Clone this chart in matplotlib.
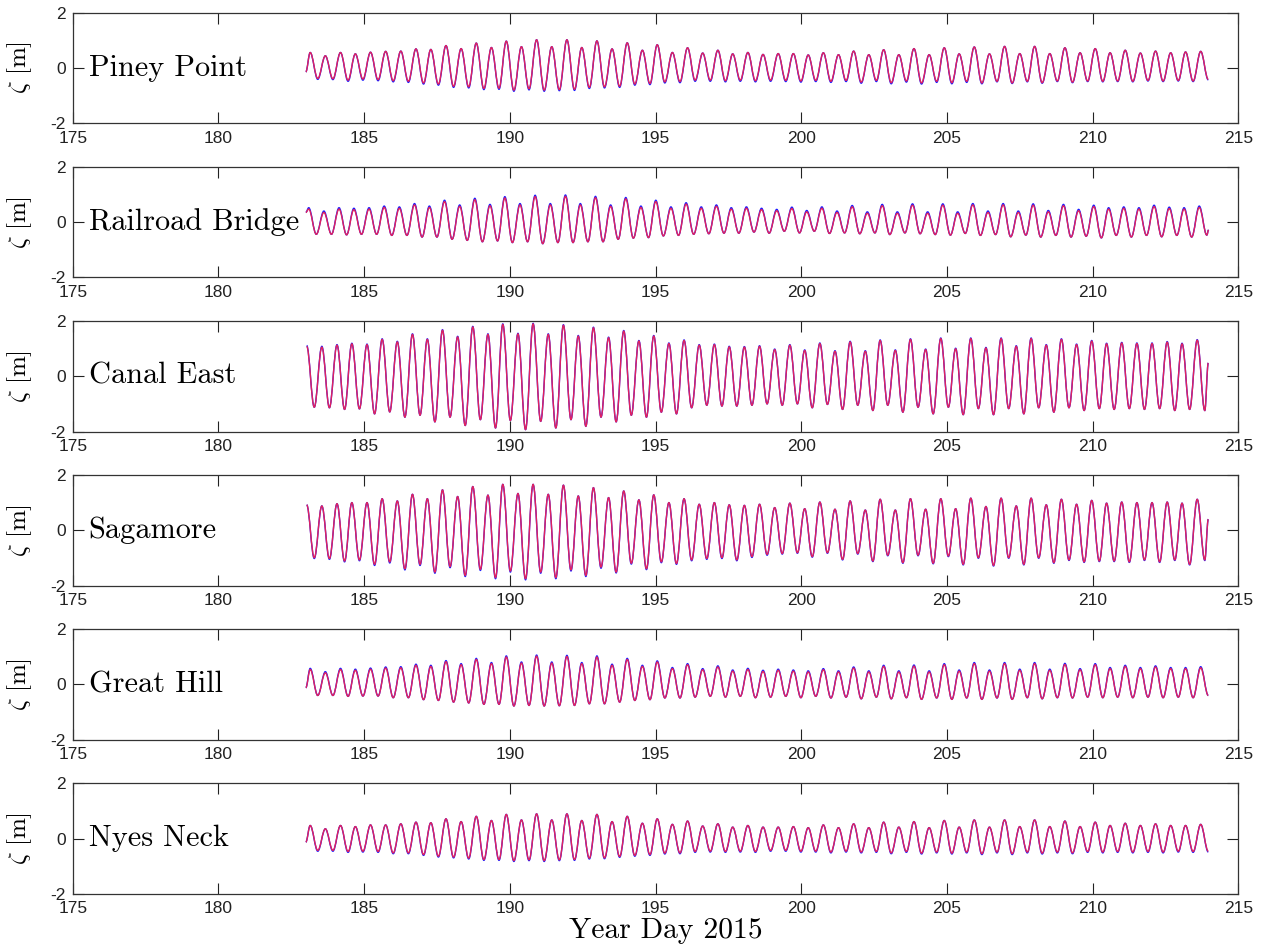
import matplotlib
matplotlib.use("Agg")
import matplotlib.pyplot as plt
from matplotlib.path import Path
from matplotlib.patches import PathPatch

# ---------------- data ----------------
stations = ["Piney Point", "Railroad Bridge", "Canal East", "Sagamore", "Great Hill", "Nyes Neck"]
x_ticks = [175, 180, 185, 190, 195, 200, 205, 210, 215]
y_ticks = [-2, 0, 2]
y_tick_labels = ["-2", "0", "2"]

# times of high / low water (year day), Buzzards Bay stations
t_hi_bb = [183.15, 183.67, 184.19, 184.70, 185.22, 185.74, 186.26, 186.78, 187.29, 187.81,
           188.33, 188.85, 189.37, 189.88, 190.40, 190.92, 191.44, 191.96, 192.47, 192.99,
           193.51, 194.03, 194.55, 195.06, 195.58, 196.10, 196.62, 197.14, 197.65, 198.17,
           198.69, 199.21, 199.73, 200.24, 200.76, 201.28, 201.80, 202.32, 202.83, 203.35,
           203.87, 204.39, 204.91, 205.42, 205.94, 206.46, 206.98, 207.50, 208.01, 208.53,
           209.05, 209.57, 210.09, 210.60, 211.12, 211.64, 212.16, 212.68, 213.19, 213.71]
t_lo_bb = [183.41, 183.93, 184.45, 184.96, 185.48, 186.00, 186.52, 187.04, 187.55, 188.07,
           188.59, 189.11, 189.63, 190.14, 190.66, 191.18, 191.70, 192.22, 192.73, 193.25,
           193.77, 194.29, 194.81, 195.32, 195.84, 196.36, 196.88, 197.40, 197.91, 198.43,
           198.95, 199.47, 199.99, 200.50, 201.02, 201.54, 202.06, 202.58, 203.09, 203.61,
           204.13, 204.65, 205.17, 205.68, 206.20, 206.72, 207.24, 207.76, 208.27, 208.79,
           209.31, 209.83, 210.35, 210.86, 211.38, 211.90, 212.42, 212.94, 213.45, 213.97]
# Railroad Bridge
t_hi_rr = [183.10, 183.62, 184.14, 184.65, 185.17, 185.69, 186.21, 186.73, 187.24, 187.76,
           188.28, 188.80, 189.32, 189.83, 190.35, 190.87, 191.39, 191.91, 192.42, 192.94,
           193.46, 193.98, 194.50, 195.01, 195.53, 196.05, 196.57, 197.09, 197.60, 198.12,
           198.64, 199.16, 199.68, 200.19, 200.71, 201.23, 201.75, 202.27, 202.78, 203.30,
           203.82, 204.34, 204.86, 205.37, 205.89, 206.41, 206.93, 207.45, 207.96, 208.48,
           209.00, 209.52, 210.04, 210.55, 211.07, 211.59, 212.11, 212.63, 213.14, 213.66]
t_lo_rr = [183.36, 183.88, 184.40, 184.91, 185.43, 185.95, 186.47, 186.99, 187.50, 188.02,
           188.54, 189.06, 189.58, 190.09, 190.61, 191.13, 191.65, 192.17, 192.68, 193.20,
           193.72, 194.24, 194.76, 195.27, 195.79, 196.31, 196.83, 197.35, 197.86, 198.38,
           198.90, 199.42, 199.94, 200.45, 200.97, 201.49, 202.01, 202.53, 203.04, 203.56,
           204.08, 204.60, 205.12, 205.63, 206.15, 206.67, 207.19, 207.71, 208.22, 208.74,
           209.26, 209.78, 210.30, 210.81, 211.33, 211.85, 212.37, 212.89, 213.40, 213.92]
# Cape Cod Bay stations (Canal East, Sagamore)
t_hi_cc = [183.03, 183.55, 184.07, 184.58, 185.10, 185.62, 186.14, 186.66, 187.17, 187.69,
           188.21, 188.73, 189.25, 189.76, 190.28, 190.80, 191.32, 191.84, 192.35, 192.87,
           193.39, 193.91, 194.43, 194.94, 195.46, 195.98, 196.50, 197.02, 197.53, 198.05,
           198.57, 199.09, 199.61, 200.12, 200.64, 201.16, 201.68, 202.20, 202.71, 203.23,
           203.75, 204.27, 204.79, 205.30, 205.82, 206.34, 206.86, 207.38, 207.89, 208.41,
           208.93, 209.45, 209.97, 210.48, 211.00, 211.52, 212.04, 212.56, 213.07, 213.59]
t_lo_cc = [183.29, 183.81, 184.33, 184.84, 185.36, 185.88, 186.40, 186.92, 187.43, 187.95,
           188.47, 188.99, 189.51, 190.02, 190.54, 191.06, 191.58, 192.10, 192.61, 193.13,
           193.65, 194.17, 194.69, 195.20, 195.72, 196.24, 196.76, 197.28, 197.79, 198.31,
           198.83, 199.35, 199.87, 200.38, 200.90, 201.42, 201.94, 202.46, 202.97, 203.49,
           204.01, 204.53, 205.05, 205.56, 206.08, 206.60, 207.12, 207.64, 208.15, 208.67,
           209.19, 209.71, 210.23, 210.74, 211.26, 211.78, 212.30, 212.82, 213.33, 213.85]

t_first = 183.00     # first sample time (when not a high water)
t_last_rr = 213.98   # last sample Railroad Bridge
t_last_cc = 213.97   # last sample Cape Cod Bay stations

# ---- Piney Point ----
pp_start = -0.14
pp_hi_mod = [0.56, 0.44, 0.56, 0.51, 0.57, 0.60, 0.61, 0.69, 0.67, 0.81, 0.70, 0.90, 0.74, 0.97, 0.77,
             1.02, 0.77, 1.02, 0.74, 0.98, 0.69, 0.91, 0.64, 0.84, 0.56, 0.73, 0.54, 0.64, 0.51, 0.56,
             0.49, 0.52, 0.52, 0.47, 0.55, 0.48, 0.61, 0.48, 0.66, 0.48, 0.70, 0.48, 0.73, 0.51, 0.76,
             0.51, 0.78, 0.52, 0.78, 0.52, 0.73, 0.55, 0.70, 0.55, 0.64, 0.54, 0.61, 0.55, 0.58, 0.60]
pp_lo_mod = [-0.38, -0.39, -0.44, -0.40, -0.42, -0.46, -0.48, -0.54, -0.58, -0.66, -0.68, -0.74, -0.73,
             -0.80, -0.75, -0.80, -0.78, -0.77, -0.70, -0.68, -0.66, -0.58, -0.56, -0.50, -0.49, -0.44,
             -0.44, -0.46, -0.44, -0.46, -0.44, -0.45, -0.47, -0.45, -0.48, -0.45, -0.51, -0.45, -0.53,
             -0.47, -0.54, -0.48, -0.53, -0.48, -0.54, -0.48, -0.54, -0.48, -0.53, -0.47, -0.51, -0.47,
             -0.48, -0.47, -0.48, -0.45, -0.47, -0.45, -0.47, -0.41]
pp_hi_obs = pp_hi_mod
pp_lo_obs = [-0.41, -0.42, -0.48, -0.44, -0.46, -0.50, -0.52, -0.58, -0.62, -0.70, -0.72, -0.78, -0.77,
             -0.84, -0.79, -0.84, -0.82, -0.81, -0.74, -0.72, -0.70, -0.62, -0.60, -0.54, -0.53, -0.48,
             -0.48, -0.50, -0.48, -0.50, -0.48, -0.49, -0.51, -0.49, -0.52, -0.49, -0.55, -0.49, -0.57,
             -0.51, -0.58, -0.52, -0.57, -0.52, -0.57, -0.50, -0.56, -0.50, -0.55, -0.49, -0.53, -0.49,
             -0.50, -0.49, -0.50, -0.47, -0.49, -0.47, -0.49, -0.43]

# ---- Railroad Bridge ----
rr_start = 0.35
rr_end = -0.28
rr_hi_mod = [0.47, 0.35, 0.47, 0.45, 0.47, 0.53, 0.50, 0.62, 0.53, 0.74, 0.57, 0.81, 0.59, 0.87, 0.62,
             0.92, 0.62, 0.93, 0.62, 0.88, 0.57, 0.84, 0.53, 0.74, 0.50, 0.65, 0.50, 0.57, 0.47, 0.50,
             0.45, 0.41, 0.49, 0.37, 0.50, 0.35, 0.55, 0.32, 0.59, 0.32, 0.61, 0.32, 0.61, 0.32, 0.62,
             0.35, 0.62, 0.35, 0.61, 0.37, 0.59, 0.41, 0.56, 0.47, 0.50, 0.47, 0.56, 0.49, 0.47, 0.53]
rr_hi_obs = [0.52, 0.40, 0.52, 0.50, 0.52, 0.58, 0.55, 0.67, 0.58, 0.79, 0.62, 0.86, 0.64, 0.92, 0.67,
             0.97, 0.67, 0.98, 0.67, 0.93, 0.62, 0.89, 0.58, 0.79, 0.55, 0.70, 0.55, 0.62, 0.52, 0.55,
             0.50, 0.46, 0.54, 0.42, 0.55, 0.40, 0.60, 0.37, 0.64, 0.37, 0.66, 0.37, 0.66, 0.37, 0.67,
             0.40, 0.67, 0.40, 0.66, 0.42, 0.64, 0.46, 0.61, 0.52, 0.55, 0.52, 0.61, 0.54, 0.52, 0.58]
rr_lo_mod = [-0.44, -0.44, -0.46, -0.44, -0.44, -0.48, -0.48, -0.54, -0.54, -0.62, -0.66, -0.71, -0.68,
             -0.74, -0.71, -0.78, -0.74, -0.74, -0.71, -0.71, -0.62, -0.58, -0.56, -0.50, -0.48, -0.44,
             -0.42, -0.40, -0.40, -0.36, -0.40, -0.33, -0.39, -0.33, -0.41, -0.39, -0.42, -0.39, -0.45,
             -0.39, -0.42, -0.45, -0.47, -0.41, -0.48, -0.45, -0.53, -0.47, -0.54, -0.48, -0.54, -0.51,
             -0.57, -0.48, -0.54, -0.48, -0.53, -0.48, -0.54, -0.47]
rr_lo_obs = rr_lo_mod

# ---- Canal East ----
ce_end = 0.48
ce_hi_mod = [1.08, 1.05, 1.12, 1.17, 1.14, 1.33, 1.24, 1.51, 1.33, 1.66, 1.42, 1.78, 1.51, 1.87, 1.53,
             1.89, 1.51, 1.84, 1.45, 1.75, 1.39, 1.63, 1.27, 1.45, 1.18, 1.29, 1.12, 1.14, 1.06, 1.05,
             1.08, 0.96, 1.12, 0.93, 1.18, 0.90, 1.24, 0.90, 1.29, 0.93, 1.33, 0.96, 1.36, 0.99, 1.36,
             1.02, 1.36, 1.08, 1.36, 1.12, 1.33, 1.14, 1.27, 1.17, 1.20, 1.18, 1.18, 1.23, 1.17, 1.30]
ce_lo_mod = [-1.12, -1.14, -1.20, -1.18, -1.36, -1.29, -1.48, -1.41, -1.65, -1.48, -1.78, -1.57, -1.87,
             -1.60, -1.93, -1.63, -1.87, -1.57, -1.81, -1.48, -1.65, -1.41, -1.48, -1.30, -1.36, -1.14,
             -1.05, -1.08, -1.08, -1.05, -1.00, -1.05, -1.00, -1.14, -1.02, -1.20, -1.05, -1.24, -1.05,
             -1.30, -1.12, -1.36, -1.12, -1.39, -1.17, -1.39, -1.17, -1.36, -1.14, -1.30, -1.14, -1.24,
             -1.17, -1.20, -1.17, -1.20, -1.17, -1.24, -1.20, -1.24]
ce_hi_obs = [1.11, 1.08, 1.14, 1.19, 1.16, 1.35, 1.26, 1.53, 1.35, 1.68, 1.44, 1.80, 1.53, 1.89, 1.55,
             1.91, 1.53, 1.86, 1.47, 1.77, 1.41, 1.65, 1.29, 1.47, 1.20, 1.31, 1.14, 1.16, 1.08, 1.07,
             1.10, 0.98, 1.14, 0.95, 1.20, 0.92, 1.26, 0.92, 1.31, 0.95, 1.35, 0.98, 1.38, 1.01, 1.38,
             1.04, 1.38, 1.10, 1.38, 1.14, 1.35, 1.16, 1.29, 1.19, 1.22, 1.20, 1.20, 1.25, 1.19, 1.32]
ce_lo_obs = ce_lo_mod

# ---- Sagamore ----
sg_end = 0.40
sg_hi_mod = [0.92, 0.88, 0.96, 1.00, 1.00, 1.14, 1.06, 1.30, 1.14, 1.46, 1.22, 1.58, 1.27, 1.66, 1.33,
             1.66, 1.30, 1.63, 1.24, 1.54, 1.18, 1.42, 1.10, 1.28, 1.00, 1.14, 0.94, 1.00, 0.92, 0.90,
             0.94, 0.82, 0.98, 0.78, 1.02, 0.76, 1.06, 0.73, 1.12, 0.73, 1.14, 0.76, 1.14, 0.78, 1.16,
             0.86, 1.16, 0.88, 1.16, 0.92, 1.12, 0.94, 1.08, 0.98, 1.02, 1.00, 1.00, 1.02, 0.98, 1.12]
sg_lo_mod = [-0.99, -1.02, -1.11, -1.07, -1.23, -1.14, -1.39, -1.23, -1.51, -1.31, -1.63, -1.41, -1.71,
             -1.47, -1.75, -1.51, -1.71, -1.43, -1.63, -1.33, -1.51, -1.19, -1.39, -1.14, -1.20, -1.07,
             -1.02, -0.99, -1.07, -0.95, -0.87, -0.84, -0.81, -0.95, -0.81, -1.05, -0.84, -1.11, -0.90,
             -1.17, -0.90, -1.19, -0.93, -1.23, -0.99, -1.27, -0.99, -1.23, -0.99, -1.17, -1.07, -1.14,
             -1.11, -1.11, -1.14, -1.07, -1.14, -1.07, -1.23, -1.07]
sg_hi_obs = sg_hi_mod
sg_lo_obs = [-1.02, -1.05, -1.14, -1.10, -1.27, -1.18, -1.43, -1.27, -1.55, -1.35, -1.67, -1.45, -1.75,
             -1.51, -1.79, -1.55, -1.75, -1.47, -1.67, -1.37, -1.54, -1.22, -1.42, -1.17, -1.23, -1.10,
             -1.05, -1.02, -1.10, -0.98, -0.90, -0.86, -0.83, -0.97, -0.83, -1.07, -0.86, -1.13, -0.92,
             -1.19, -0.92, -1.21, -0.95, -1.25, -1.01, -1.29, -1.01, -1.25, -1.01, -1.19, -1.09, -1.16,
             -1.13, -1.13, -1.16, -1.09, -1.16, -1.09, -1.25, -1.09]

# ---- Great Hill ----
gh_start = -0.12
gh_hi_mod = [0.54, 0.42, 0.54, 0.51, 0.55, 0.59, 0.60, 0.69, 0.65, 0.82, 0.71, 0.90, 0.75, 0.99, 0.77,
             1.02, 0.77, 1.01, 0.75, 0.99, 0.69, 0.90, 0.65, 0.81, 0.57, 0.71, 0.53, 0.63, 0.48, 0.54,
             0.47, 0.51, 0.48, 0.45, 0.53, 0.45, 0.59, 0.45, 0.65, 0.45, 0.66, 0.45, 0.71, 0.48, 0.75,
             0.48, 0.75, 0.51, 0.75, 0.51, 0.72, 0.53, 0.71, 0.57, 0.65, 0.57, 0.63, 0.57, 0.57, 0.60]
gh_hi_obs = [0.58, 0.46, 0.58, 0.55, 0.59, 0.63, 0.64, 0.73, 0.69, 0.86, 0.75, 0.94, 0.79, 1.03, 0.81,
             1.06, 0.81, 1.05, 0.79, 1.03, 0.73, 0.94, 0.69, 0.85, 0.61, 0.75, 0.57, 0.67, 0.52, 0.58,
             0.51, 0.55, 0.52, 0.49, 0.57, 0.49, 0.63, 0.49, 0.69, 0.49, 0.70, 0.49, 0.75, 0.52, 0.79,
             0.52, 0.79, 0.55, 0.79, 0.55, 0.76, 0.57, 0.75, 0.61, 0.69, 0.61, 0.67, 0.61, 0.61, 0.64]
gh_lo_mod = [-0.40, -0.40, -0.43, -0.42, -0.42, -0.48, -0.48, -0.55, -0.58, -0.64, -0.67, -0.72, -0.72,
             -0.78, -0.76, -0.78, -0.77, -0.76, -0.70, -0.70, -0.64, -0.58, -0.55, -0.49, -0.49, -0.46,
             -0.43, -0.46, -0.43, -0.48, -0.46, -0.43, -0.48, -0.43, -0.49, -0.46, -0.52, -0.46, -0.52,
             -0.48, -0.54, -0.49, -0.54, -0.49, -0.54, -0.49, -0.54, -0.48, -0.52, -0.48, -0.49, -0.46,
             -0.48, -0.46, -0.48, -0.46, -0.48, -0.46, -0.48, -0.40]
gh_lo_obs = gh_lo_mod

# ---- Nyes Neck ----
ny_start = -0.13
ny_hi_mod = [0.47, 0.35, 0.47, 0.43, 0.49, 0.49, 0.53, 0.59, 0.57, 0.71, 0.61, 0.80, 0.65, 0.87, 0.67,
             0.89, 0.67, 0.89, 0.65, 0.87, 0.61, 0.80, 0.55, 0.71, 0.51, 0.63, 0.45, 0.53, 0.41, 0.47,
             0.41, 0.41, 0.43, 0.39, 0.49, 0.39, 0.53, 0.39, 0.59, 0.41, 0.61, 0.39, 0.65, 0.41, 0.67,
             0.41, 0.67, 0.43, 0.67, 0.43, 0.63, 0.43, 0.59, 0.47, 0.55, 0.47, 0.53, 0.47, 0.47, 0.51]
ny_hi_obs = ny_hi_mod
ny_lo_mod = [-0.43, -0.43, -0.47, -0.46, -0.47, -0.52, -0.52, -0.58, -0.64, -0.67, -0.71, -0.76, -0.76,
             -0.80, -0.77, -0.80, -0.77, -0.76, -0.71, -0.70, -0.65, -0.61, -0.58, -0.53, -0.52, -0.47,
             -0.46, -0.47, -0.46, -0.47, -0.43, -0.43, -0.46, -0.46, -0.49, -0.46, -0.49, -0.47, -0.52,
             -0.47, -0.53, -0.49, -0.53, -0.49, -0.55, -0.49, -0.55, -0.49, -0.53, -0.49, -0.52, -0.47,
             -0.49, -0.47, -0.49, -0.47, -0.49, -0.46, -0.47, -0.46]
ny_lo_obs = [-0.46, -0.46, -0.50, -0.49, -0.50, -0.55, -0.55, -0.61, -0.67, -0.70, -0.74, -0.79, -0.79,
             -0.83, -0.80, -0.83, -0.80, -0.79, -0.74, -0.73, -0.68, -0.64, -0.61, -0.56, -0.55, -0.50,
             -0.49, -0.50, -0.49, -0.50, -0.46, -0.46, -0.49, -0.49, -0.52, -0.49, -0.52, -0.50, -0.55,
             -0.50, -0.56, -0.52, -0.56, -0.52, -0.58, -0.52, -0.58, -0.52, -0.56, -0.52, -0.55, -0.50,
             -0.52, -0.50, -0.52, -0.50, -0.52, -0.49, -0.50, -0.49]

# ---------------- assemble ----------------
def build(t_hi, t_lo, hi, lo, start=None, end=None):
    t, v = [], []
    if start is not None:
        t.append(start[0]); v.append(start[1])
    for a, b, c, d in zip(t_hi, hi, t_lo, lo):
        t += [a, c]; v += [b, d]
    if end is not None:
        t.append(end[0]); v.append(end[1])
    return t, v

panels = [
    dict(t=(t_hi_bb, t_lo_bb), obs=(pp_hi_obs, pp_lo_obs), mod=(pp_hi_mod, pp_lo_mod),
         start=(t_first, pp_start), end=None),
    dict(t=(t_hi_rr, t_lo_rr), obs=(rr_hi_obs, rr_lo_obs), mod=(rr_hi_mod, rr_lo_mod),
         start=(t_first, rr_start), end=(t_last_rr, rr_end)),
    dict(t=(t_hi_cc, t_lo_cc), obs=(ce_hi_obs, ce_lo_obs), mod=(ce_hi_mod, ce_lo_mod),
         start=None, end=(t_last_cc, ce_end)),
    dict(t=(t_hi_cc, t_lo_cc), obs=(sg_hi_obs, sg_lo_obs), mod=(sg_hi_mod, sg_lo_mod),
         start=None, end=(t_last_cc, sg_end)),
    dict(t=(t_hi_bb, t_lo_bb), obs=(gh_hi_obs, gh_lo_obs), mod=(gh_hi_mod, gh_lo_mod),
         start=(t_first, gh_start), end=None),
    dict(t=(t_hi_bb, t_lo_bb), obs=(ny_hi_obs, ny_lo_obs), mod=(ny_hi_mod, ny_lo_mod),
         start=(t_first, ny_start), end=None),
]

K = 0.364  # cubic Bezier handle fraction giving a cosine-like turn between extrema


def smooth_path(t, v):
    verts = [(t[0], v[0])]
    codes = [Path.MOVETO]
    for i in range(1, len(t)):
        dt = t[i] - t[i - 1]
        verts += [(t[i - 1] + K * dt, v[i - 1]), (t[i] - K * dt, v[i]), (t[i], v[i])]
        codes += [Path.CURVE4] * 3
    return Path(verts, codes)


plt.rcParams['mathtext.fontset'] = 'cm'
plt.rcParams['axes.unicode_minus'] = False

W, H = 1262, 949
fig = plt.figure(figsize=(W / 100, H / 100), dpi=100)

left_px, right_px = 72.7, 1238.3
top0, step, hgt = 12.7, 154.1, 110.6
blue_c = "#1a1aff"
red_c = "#e0225e"
frame_c = "#333333"

for i, (name, p) in enumerate(zip(stations, panels)):
    top = top0 + i * step
    ax = fig.add_axes([left_px / W, 1 - (top + hgt) / H, (right_px - left_px) / W, hgt / H])
    t_hi, t_lo = p["t"]
    to, vo = build(t_hi, t_lo, p["obs"][0], p["obs"][1], p["start"], p["end"])
    tm, vm = build(t_hi, t_lo, p["mod"][0], p["mod"][1], p["start"], p["end"])
    ax.add_patch(PathPatch(smooth_path(to, vo), fill=False, edgecolor=blue_c, lw=1.0))
    ax.add_patch(PathPatch(smooth_path(tm, vm), fill=False, edgecolor=red_c, lw=1.0))
    ax.set_xlim(175, 215)
    ax.set_ylim(-2, 2)
    ax.set_xticks(x_ticks)
    ax.set_xticklabels([str(v) for v in x_ticks])
    ax.set_yticks(y_ticks)
    ax.set_yticklabels(y_tick_labels)
    ax.tick_params(direction="in", length=8, width=0.8, top=True, right=True,
                   labelsize=12.5, colors="#222222")
    ax.tick_params(axis="x", pad=5.5)
    ax.tick_params(axis="y", pad=5)
    for lab in ax.get_xticklabels() + ax.get_yticklabels():
        lab.set_fontfamily("Liberation Sans")
    for s in ax.spines.values():
        s.set_linewidth(0.9)
        s.set_color(frame_c)
    ax.text(175.55, 0, name, fontfamily="cmr10", fontsize=21.8, ha="left", va="center", color="black")
    ax.set_ylabel(r"$\zeta$ [m]", fontfamily="cmr10", fontsize=18)
    ax.yaxis.set_label_coords(-0.033, 0.5)

fig.text(666 / W, 1 - 931 / H, "Year Day 2015", fontfamily="cmr10", fontsize=21.3,
         ha="center", va="center")

fig.savefig("out.png", dpi=100, facecolor="white")
